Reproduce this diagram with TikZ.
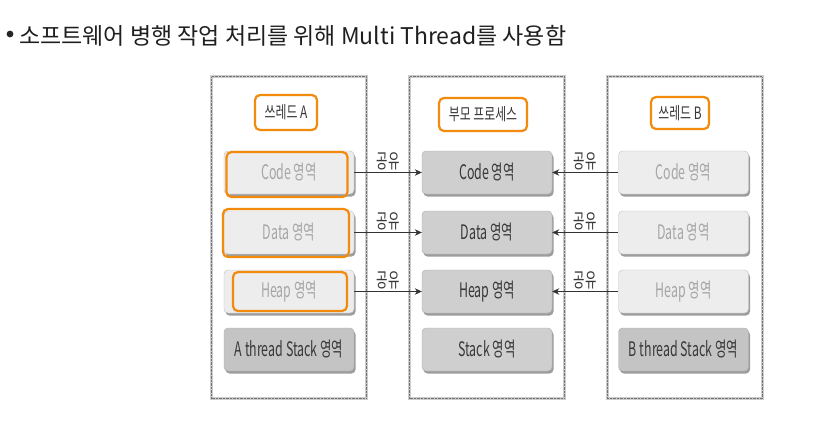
\documentclass[tikz,border=0pt]{standalone}
\usepackage{fontspec}
\setmainfont{Noto Sans CJK KR}
\newfontfamily\dgfont[FakeStretch=0.62]{Noto Sans CJK KR}
\newfontfamily\ttlfont[FakeStretch=0.7]{Noto Sans CJK KR}
\usetikzlibrary{positioning, arrows.meta, shadows}
\definecolor{hlorange}{HTML}{F28A0C}
\definecolor{darktext}{HTML}{383838}
\definecolor{lighttext}{HTML}{A6A6A6}

\begin{document}
\begin{tikzpicture}[x=1pt, y=-1pt, >={Stealth[length=7pt, width=6.5pt]},
    panel/.style={draw=black!20, line width=3pt, fill=white, minimum width=155pt, minimum height=322pt,
      postaction={draw=black!55, line width=0.4pt, densely dotted}},
    membox/.style={rounded corners=4pt, draw=black!25, minimum width=130pt, minimum height=43pt,
      font=\dgfont\fontsize{20}{20}\selectfont, drop shadow={shadow xshift=1.5pt, shadow yshift=-2.5pt, fill=black!45, opacity=0.85}},
    lightbox/.style={membox, fill=black!7, text=lighttext},
    procbox/.style={membox, fill=black!19, draw=black!32, text=darktext},
    stackbox/.style={membox, fill=black!23, draw=black!32, text=darktext},
    hl/.style={draw=hlorange, line width=2.2pt, rounded corners=5pt},
    title/.style={hl, fill=white, text=darktext, font=\ttlfont\fontsize{17}{17}\selectfont},
    share/.style={font=\dgfont\fontsize{20}{20}\selectfont, text=darktext, above, inner sep=2pt},
    link/.style={->, draw=black!80, line width=0.7pt}]
  \useasboundingbox (0,0) rectangle (837,421);

  \fill[black!85] (10,34) circle (3.4pt);
  \node[anchor=base west, inner sep=0pt, text=black!88, font=\fontsize{23}{25}\selectfont] (head) at (19,44)
    {소프트웨어 병행 작업 처리를 위해 Multi Thread를 사용함};

  \node[panel] (pa) at (289,237.5) {};
  \node[panel] (pp) at (487,237.5) {};
  \node[panel] (pb) at (684.5,237.5) {};

  \node[title, minimum width=62pt, minimum height=35pt] (ta) at (286,112.5) {쓰레드 A};
  \node[title, minimum width=88pt, minimum height=33pt] (tp) at (483,114.5) {부모 프로세스};
  \node[title, minimum width=58pt, minimum height=32pt] (tb) at (680,113) {쓰레드 B};

  \node[lightbox] (acode) at (289,172.5) {Code 영역};
  \node[lightbox] (adata) at (289,232.5) {Data 영역};
  \node[lightbox] (aheap) at (289,291.5) {Heap 영역};
  \node[stackbox] (astack) at (289,349.5) {A thread Stack 영역};

  \node[procbox] (pcode) at (487,172.5) {Code 영역};
  \node[procbox] (pdata) at (487,232.5) {Data 영역};
  \node[procbox] (pheap) at (487,291.5) {Heap 영역};
  \node[procbox] (pstack) at (487,349.5) {Stack 영역};

  \node[lightbox] (bcode) at (683.5,172.5) {Code 영역};
  \node[lightbox] (bdata) at (683.5,232.5) {Data 영역};
  \node[lightbox] (bheap) at (683.5,291.5) {Heap 영역};
  \node[stackbox] (bstack) at (683.5,349.5) {B thread Stack 영역};

  \node[hl, minimum width=121pt, minimum height=45pt] (hcode) at (287,174.5) {};
  \node[hl, minimum width=126pt, minimum height=48pt] (hdata) at (286,233) {};
  \node[hl, minimum width=114pt, minimum height=39pt] (hheap) at (290,291.5) {};

  \draw[link] (acode) -- node[share] {공유} (pcode);
  \draw[link] (adata) -- node[share] {공유} (pdata);
  \draw[link] (aheap) -- node[share] {공유} (pheap);
  \draw[link] (bcode) -- node[share] {공유} (pcode);
  \draw[link] (bdata) -- node[share] {공유} (pdata);
  \draw[link] (bheap) -- node[share] {공유} (pheap);
\end{tikzpicture}
\end{document}
